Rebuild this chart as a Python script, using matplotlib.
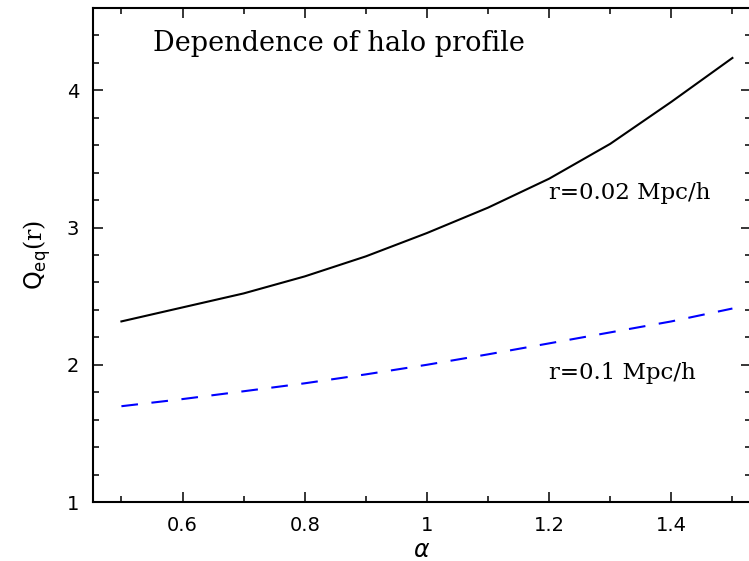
import numpy as np
import matplotlib.pyplot as plt
from matplotlib.ticker import MultipleLocator

# halo profile dependence: Q_eq(r) vs alpha
alpha = [0.5, 0.6, 0.7, 0.8, 0.9, 1.0, 1.1, 1.2, 1.3, 1.4, 1.5]
q_r002 = [2.316, 2.418, 2.52, 2.644, 2.79, 2.96, 3.145, 3.356, 3.61, 3.916, 4.236]
q_r01 = [1.698, 1.75, 1.807, 1.865, 1.93, 2.0, 2.076, 2.156, 2.236, 2.316, 2.41]

x_ticks = [0.6, 0.8, 1.0, 1.2, 1.4]
x_labels = ["0.6", "0.8", "1", "1.2", "1.4"]
y_ticks = [1, 2, 3, 4]
y_labels = ["1", "2", "3", "4"]

fig = plt.figure(figsize=(7.49, 5.61), dpi=100)
# right edge of the frame falls just outside the picture, as in the original
ax = fig.add_axes([93 / 749, 59 / 561, 658 / 749, 494 / 561])

ax.plot(alpha, q_r002, color="black", lw=1.5)
ax.plot(alpha, q_r01, color="blue", lw=1.5, linestyle=(0, (8, 6.5)))

ax.set_xlim(0.4535, 0.4535 + 658 / 611)
ax.set_ylim(1, 4.6)

ax.set_xticks(x_ticks)
ax.set_xticklabels(x_labels)
ax.set_yticks(y_ticks)
ax.set_yticklabels(y_labels)
ax.xaxis.set_minor_locator(MultipleLocator(0.1))
ax.yaxis.set_minor_locator(MultipleLocator(0.2))
ax.tick_params(which="both", direction="in", top=True, right=True,
               width=1.1, labelsize=14, pad=10)
ax.tick_params(which="major", length=7.5)
ax.tick_params(which="minor", length=4)
for s in ax.spines.values():
    s.set_linewidth(1.5)

ax.set_xlabel(r"$\alpha$", fontsize=17, labelpad=2)
ax.set_ylabel(r"$\mathsf{Q_{eq}}$(r)", fontsize=17, family="DejaVu Serif", labelpad=10)

ax.text(0.091, 0.928, "Dependence of halo profile", transform=ax.transAxes,
        family="DejaVu Serif", fontsize=19.5, va="center", ha="left")
ax.text(1.2, 3.25, "r=0.02 Mpc/h", family="DejaVu Serif", fontsize=16.5,
        va="center", ha="left")
ax.text(1.2, 1.94, "r=0.1 Mpc/h", family="DejaVu Serif", fontsize=16.5,
        va="center", ha="left")

plt.savefig("out.png", dpi=100)
